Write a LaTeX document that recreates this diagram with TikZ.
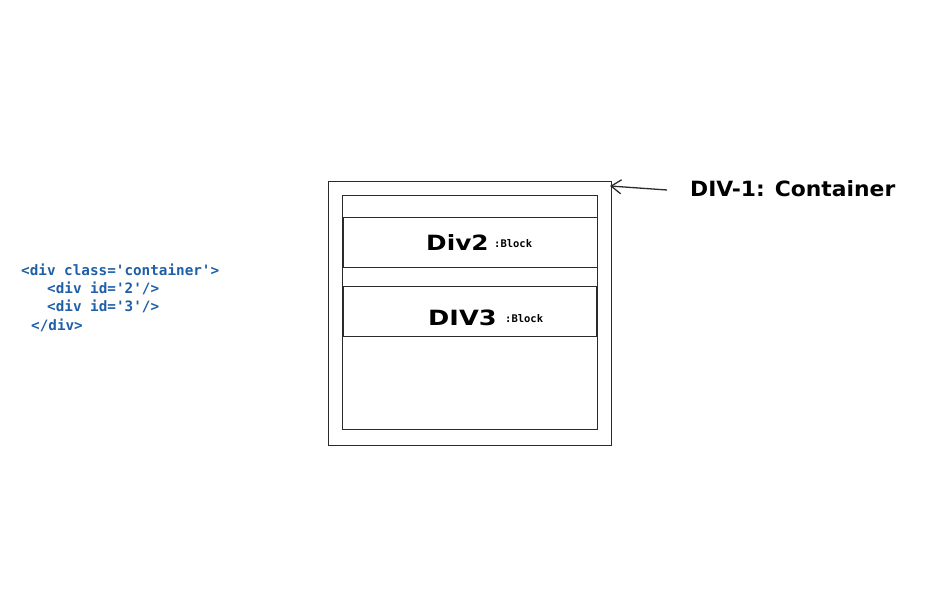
\documentclass[tikz,border=0pt]{standalone}
\usepackage{fontspec}
\setmonofont{DejaVu Sans Mono}
\newfontfamily\handfont{DejaVu Sans}
\usetikzlibrary{arrows.meta}
\definecolor{codeblue}{HTML}{1F5FA8}
\definecolor{ink}{HTML}{2B2B2B}
\tikzset{
  box/.style={draw=ink, line width=1.3pt, rectangle, inner sep=0pt},
  code/.style={anchor=west, inner sep=0pt, text=codeblue, font=\ttfamily\bfseries\fontsize{14.3}{16}\selectfont},
  hand/.style={inner sep=0pt, text=black, font=\handfont\bfseries\fontsize{21}{24}\selectfont},
  tag/.style={anchor=west, inner sep=0pt, text=black, font=\ttfamily\bfseries\fontsize{10.5}{12}\selectfont},
}
\begin{document}
\begin{tikzpicture}[x=1pt,y=1pt]
\useasboundingbox (0,0) rectangle (945,-607);
% boxes
\node[box, minimum width=283pt, minimum height=264pt, anchor=north west] (outer) at (328,-181) {};
\node[box, minimum width=255pt, minimum height=234pt, anchor=north west] (inner) at (342,-195) {};
\node[box, minimum width=254pt, minimum height=50pt, anchor=north west] (div2) at (343,-217) {};
\node[box, minimum width=253pt, minimum height=50pt, anchor=north west] (div3) at (343,-286) {};
% labels in boxes
\node[hand, anchor=base west] (d2) at (426,-250) {\scalebox{1.18}[1]{Div2}};
\node[tag, anchor=base west] (b2) at (494,-247) {:Block};
\node[hand, anchor=base west] (d3) at (428,-325) {\scalebox{1.22}[1]{DIV3}};
\node[tag, anchor=base west] (b3) at (505,-322) {:Block};
% container label and arrow
\node[hand, anchor=base west] (lab) at (690,-196) {\scalebox{1.04}[1]{DIV-1: Container}};
\coordinate (tail) at (667,-190);
\coordinate (tip) at (610,-186);
\draw[ink, line width=1.3pt, -{Straight Barb[length=10pt, width=14pt]}] (tail) -- (tip);
% code
\node[code] (c1) at (21,-270) {<div class='container'>};
\node[code] (c2) at (47,-288) {<div id='2'/>};
\node[code] (c3) at (47,-306) {<div id='3'/>};
\node[code] (c4) at (31,-325) {</div>};
\end{tikzpicture}
\end{document}
